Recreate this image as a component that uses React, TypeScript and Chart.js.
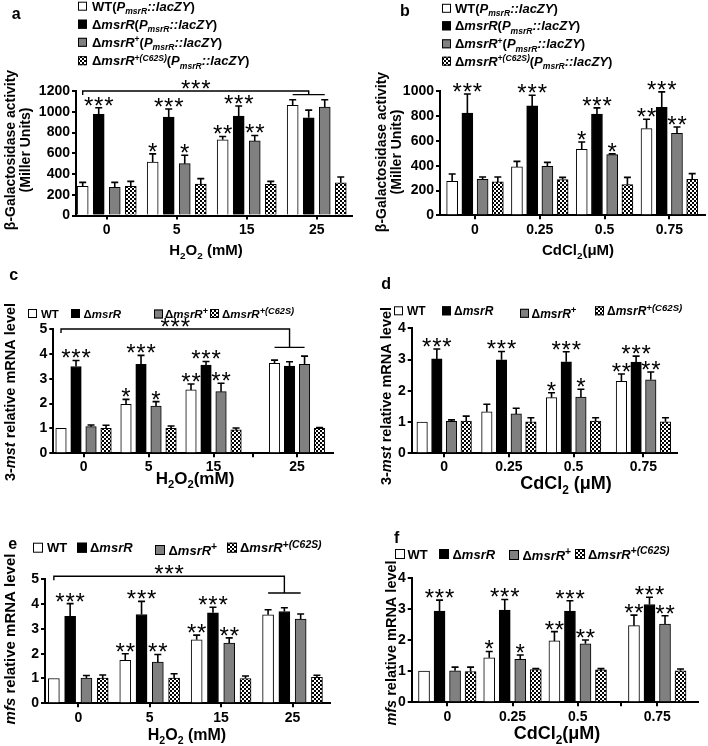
import React, { useEffect, useRef } from 'react';
import { Chart, registerables } from 'chart.js';

Chart.register(...registerables);

const FAMILY = '"Liberation Sans", Arial, Helvetica, sans-serif';

type Seg = { t: string; i?: boolean; sub?: boolean; sup?: boolean };

// ---------------- DATA ----------------
const h2o2Labels = ['0', '5', '15', '25'];
const cdLabels = ['0', '0.25', '0.5', '0.75'];
const seriesKeys = ['WT', 'ΔmsrR', 'ΔmsrR+', 'ΔmsrR+(C62S)'];

// Panel a: β-Galactosidase activity, H2O2
const aWT = [281, 516, 729, 1061];
const aWTErr = [38, 78, 32, 55];
const aKO = [974, 948, 958, 942];
const aKOErr = [65, 78, 97, 74];
const aComp = [271, 500, 719, 1045];
const aCompErr = [48, 81, 52, 71];
const aMut = [281, 303, 300, 316];
const aMutErr = [48, 52, 29, 55];
const aWTSig = ['', '*', '**', ''];
const aKOSig = ['***', '***', '***', ''];
const aCompSig = ['', '*', '**', ''];

// Panel b: β-Galactosidase activity, CdCl2
const bWT = [274, 390, 532, 699];
const bWTErr = [59, 45, 59, 75];
const bKO = [825, 882, 817, 871];
const bKOErr = [153, 86, 49, 124];
const bComp = [290, 395, 489, 661];
const bCompErr = [19, 32, 6, 51];
const bMut = [269, 288, 247, 290];
const bMutErr = [40, 18, 59, 46];
const bWTSig = ['', '', '*', '**'];
const bKOSig = ['***', '***', '***', '***'];
const bCompSig = ['', '', '*', '**'];

// Panel c: 3-mst mRNA, H2O2
const cWT = [1.0, 1.97, 2.55, 3.62];
const cWTErr = [0, 0.2, 0.24, 0.13];
const cKO = [3.49, 3.58, 3.55, 3.51];
const cKOErr = [0.24, 0.36, 0.14, 0.17];
const cComp = [1.07, 1.9, 2.48, 3.58];
const cCompErr = [0.07, 0.18, 0.34, 0.33];
const cMut = [1.0, 1.0, 0.94, 1.0];
const cMutErr = [0.13, 0.1, 0.08, 0.04];
const cWTSig = ['', '*', '**', ''];
const cKOSig = ['***', '***', '***', ''];
const cCompSig = ['', '*', '**', ''];

// Panel d: 3-mst mRNA, CdCl2
const dWT = [1.0, 1.33, 1.78, 2.3];
const dWTErr = [0, 0.24, 0.16, 0.24];
const dKO = [3.02, 2.99, 2.93, 2.92];
const dKOErr = [0.32, 0.27, 0.32, 0.19];
const dComp = [1.02, 1.26, 1.8, 2.35];
const dCompErr = [0.05, 0.18, 0.25, 0.25];
const dMut = [1.03, 1.01, 1.03, 1.01];
const dMutErr = [0.16, 0.13, 0.11, 0.13];
const dWTSig = ['', '', '*', '**'];
const dKOSig = ['***', '***', '***', '***'];
const dCompSig = ['', '', '*', '**'];

// Panel e: mfs mRNA, H2O2
const eWT = [1.0, 1.73, 2.56, 3.57];
const eWTErr = [0, 0.27, 0.19, 0.2];
const eKO = [3.51, 3.58, 3.65, 3.7];
const eKOErr = [0.51, 0.53, 0.22, 0.15];
const eComp = [1.02, 1.66, 2.43, 3.4];
const eCompErr = [0.1, 0.31, 0.21, 0.2];
const eMut = [1.02, 1.02, 1.0, 1.05];
const eMutErr = [0.12, 0.17, 0.1, 0.08];
const eWTSig = ['', '**', '**', ''];
const eKOSig = ['***', '***', '***', ''];
const eCompSig = ['', '**', '**', ''];

// Panel f: mfs mRNA, CdCl2
const fWT = [1.0, 1.43, 1.97, 2.46];
const fWTErr = [0, 0.2, 0.3, 0.34];
const fKO = [2.93, 2.96, 2.93, 3.14];
const fKOErr = [0.35, 0.34, 0.33, 0.23];
const fComp = [1.01, 1.38, 1.88, 2.51];
const fCompErr = [0.12, 0.14, 0.12, 0.27];
const fMut = [0.99, 1.05, 1.04, 1.01];
const fMutErr = [0.14, 0.03, 0.04, 0.06];
const fWTSig = ['', '*', '**', '**'];
const fKOSig = ['***', '***', '***', '***'];
const fCompSig = ['', '*', '**', '**'];
const noSig = ['', '', '', ''];

// ---------------- TEXT ----------------
const promoter: Seg[] = [
  { t: '(' }, { t: 'P', i: true }, { t: 'msrR', i: true, sub: true }, { t: '::lacZY', i: true }, { t: ')' },
];
const longNames: Seg[][] = [
  [{ t: 'WT' }, ...promoter],
  [{ t: 'Δ' }, { t: 'msrR', i: true }, ...promoter],
  [{ t: 'Δ' }, { t: 'msrR', i: true }, { t: '+', sup: true }, ...promoter],
  [{ t: 'Δ' }, { t: 'msrR', i: true }, { t: '+(C62S)', i: true, sup: true }, ...promoter],
];
const shortNames: Seg[][] = [
  [{ t: 'WT' }],
  [{ t: 'Δ' }, { t: 'msrR', i: true }],
  [{ t: 'Δ' }, { t: 'msrR', i: true }, { t: '+', sup: true }],
  [{ t: 'Δ' }, { t: 'msrR', i: true }, { t: '+(C62S)', i: true, sup: true }],
];
const galTitle: Seg[][] = [[{ t: 'β-Galactosidase activity' }], [{ t: '(Miller Units)' }]];
const mstTitle: Seg[][] = [[{ t: '3-' }, { t: 'mst', i: true }, { t: ' relative mRNA level' }]];
const mfsTitle: Seg[][] = [[{ t: 'mfs', i: true }, { t: ' relative mRNA level' }]];
const h2o2Title: Seg[] = [{ t: 'H' }, { t: '2', sub: true }, { t: 'O' }, { t: '2', sub: true }, { t: ' (mM)' }];
const h2o2TitleTight: Seg[] = [{ t: 'H' }, { t: '2', sub: true }, { t: 'O' }, { t: '2', sub: true }, { t: '(mM)' }];
const cdTitle: Seg[] = [{ t: 'CdCl' }, { t: '2', sub: true }, { t: '(μM)' }];
const cdTitleSpaced: Seg[] = [{ t: 'CdCl' }, { t: '2', sub: true }, { t: ' (μM)' }];

const mk = (mean: number[], err: number[], sig: string[]) => ({ mean, err, sig });

// ---------------- PANELS (layout) ----------------
const panels: any[] = [
  {
    id: 'a', cell: { x: 0, y: 0, w: 354, h: 262 },
    area: { left: 76, top: 91, right: 352, bottom: 215.5 },
    xMin: -0.439, xMax: 3.504, groupPos: [0, 1, 2, 3], tickPos: [0, 1, 2, 3], tickLabels: h2o2Labels,
    pitch: 0.229, barW: 11, yMax: 1200, yStep: 200, yTickFs: 14, xTickFs: 14, xTickPad: 2,
    series: [mk(aWT, aWTErr, aWTSig), mk(aKO, aKOErr, aKOSig), mk(aComp, aCompErr, aCompSig), mk(aMut, aMutErr, noSig)],
    letter: { t: 'a', x: 11.7, y: 18.5 },
    legend: { names: longNames, fs: 13, ss: 0.66, box: 9, items: [[78, 92, 6.2], [78, 92, 24.2], [78, 92, 42.3], [78, 92, 60.7]] },
    yTitle: { lines: galTitle, xs: [10, 25], cy: 150, fs: 14 },
    xTitle: { segs: h2o2Title, x: 206, y: 250, fs: 15 },
    bracket: { top: 1200, short: 1165 },
  },
  {
    id: 'b', cell: { x: 354, y: 0, w: 354, h: 262 },
    area: { left: 440, top: 91.3, right: 705, bottom: 215.3 },
    xMin: -0.54, xMax: 3.55, groupPos: [0, 1, 2, 3], tickPos: [0, 1, 2, 3], tickLabels: cdLabels,
    pitch: 0.235, barW: 11, yMax: 1000, yStep: 200, yTickFs: 14, xTickFs: 14, xTickPad: 2,
    series: [mk(bWT, bWTErr, bWTSig), mk(bKO, bKOErr, bKOSig), mk(bComp, bCompErr, bCompSig), mk(bMut, bMutErr, noSig)],
    letter: { t: 'b', x: 400, y: 16 },
    legend: { names: longNames, fs: 13, ss: 0.66, box: 9, items: [[442, 455, 8.3], [442, 455, 25.8], [442, 455, 43.8], [442, 455, 61.2]] },
    yTitle: { lines: galTitle, xs: [381, 396], cy: 152, fs: 14 },
    xTitle: { segs: cdTitle, x: 578, y: 250, fs: 15 },
  },
  {
    id: 'c', cell: { x: 0, y: 258, w: 354, h: 246 },
    area: { left: 53.3, top: 329, right: 333, bottom: 453.3 },
    xMin: -0.465, xMax: 3.838, groupPos: [0, 1, 2, 3.285], tickPos: [0, 1, 2, 2.61, 3.285],
    tickLabels: ['0', '5', '15', '', '25'],
    pitch: 0.231, barW: 10.5, yMax: 5, yStep: 1, yTickFs: 14, xTickFs: 14, xTickPad: 1,
    series: [mk(cWT, cWTErr, cWTSig), mk(cKO, cKOErr, cKOSig), mk(cComp, cCompErr, cCompSig), mk(cMut, cMutErr, noSig)],
    letter: { t: 'c', x: 9.3, y: 279.5 },
    legend: { names: shortNames, fs: 11.5, ss: 0.8, box: 9, items: [[28, 41, 313.5], [71, 83.5, 313.5], [154, 165, 314], [210, 222, 313.5]] },
    yTitle: { lines: mstTitle, xs: [10], cy: 392, fs: 14.5 },
    xTitle: { segs: h2o2TitleTight, x: 195, y: 478, fs: 17 },
    bracket: { top: 5, short: 4.26 },
  },
  {
    id: 'd', cell: { x: 354, y: 258, w: 354, h: 246 },
    area: { left: 411.7, top: 328.3, right: 676.7, bottom: 453.3 },
    xMin: -0.502, xMax: 3.594, groupPos: [0, 1, 2, 3.08], tickPos: [0, 1, 2, 3.08], tickLabels: cdLabels,
    pitch: 0.227, barW: 10.5, yMax: 4, yStep: 1, yTickFs: 14, xTickFs: 14, xTickPad: 1.5,
    series: [mk(dWT, dWTErr, dWTSig), mk(dKO, dKOErr, dKOSig), mk(dComp, dCompErr, dCompSig), mk(dMut, dMutErr, noSig)],
    letter: { t: 'd', x: 381.3, y: 288.5 },
    legend: { names: shortNames, fs: 12, ss: 0.8, box: 9, items: [[394, 407, 310.8], [442, 454, 310.8], [520, 531.5, 313.3], [595, 607, 310.8]] },
    yTitle: { lines: mstTitle, xs: [386], cy: 396, fs: 14.5 },
    xTitle: { segs: cdTitleSpaced, x: 566, y: 483, fs: 18 },
  },
  {
    id: 'e', cell: { x: 0, y: 500, w: 354, h: 246 },
    area: { left: 45, top: 579.3, right: 330, bottom: 703.3 },
    xMin: -0.466, xMax: 3.525, groupPos: [0, 1, 2, 3], tickPos: [0, 1, 2, 3], tickLabels: h2o2Labels,
    pitch: 0.228, barW: 11, yMax: 5, yStep: 1, yTickFs: 14, xTickFs: 14, xTickPad: 2.5,
    series: [mk(eWT, eWTErr, eWTSig), mk(eKO, eKOErr, eKOSig), mk(eComp, eCompErr, eCompSig), mk(eMut, eMutErr, noSig)],
    letter: { t: 'e', x: 8.3, y: 549 },
    legend: { names: shortNames, fs: 13, ss: 0.8, box: 10, items: [[33, 47, 547.7], [77, 90, 547.7], [155, 168.5, 550], [227, 240, 547.7]] },
    yTitle: { lines: mfsTitle, xs: [10], cy: 639, fs: 15 },
    xTitle: { segs: h2o2Title, x: 187, y: 734, fs: 16 },
    bracket: { top: 5.12, short: 4.45 },
  },
  {
    id: 'f', cell: { x: 354, y: 500, w: 354, h: 246 },
    area: { left: 411.7, top: 577.7, right: 698, bottom: 702.3 },
    xMin: -0.546, xMax: 3.845, groupPos: [0, 1, 2, 3.22], tickPos: [0, 1, 2, 2.67, 3.22],
    tickLabels: ['0', '0.25', '0.5', '', '0.75'],
    pitch: 0.238, barW: 11, yMax: 4, yStep: 1, yTickFs: 14, xTickFs: 14, xTickPad: 2,
    series: [mk(fWT, fWTErr, fWTSig), mk(fKO, fKOErr, fKOSig), mk(fComp, fCompErr, fCompSig), mk(fMut, fMutErr, noSig)],
    letter: { t: 'f', x: 394, y: 543 },
    legend: { names: shortNames, fs: 13, ss: 0.8, box: 10, items: [[395, 407.5, 554], [439, 452.5, 554], [509, 522.5, 555], [575, 588, 554]] },
    yTitle: { lines: mfsTitle, xs: [391], cy: 643, fs: 14.5 },
    xTitle: { segs: cdTitle, x: 557, y: 733, fs: 18 },
  },
];

// ---------------- DRAW HELPERS ----------------
function segFont(s: Seg, fs: number, ss: number) {
  const size = s.sub || s.sup ? fs * ss : fs;
  return `${s.i ? 'italic ' : ''}bold ${size}px ${FAMILY}`;
}
function measureRich(ctx: CanvasRenderingContext2D, segs: Seg[], fs: number, ss: number) {
  let w = 0;
  for (const s of segs) {
    ctx.font = segFont(s, fs, ss);
    w += ctx.measureText(s.t).width;
  }
  return w;
}
function drawRich(ctx: CanvasRenderingContext2D, segs: Seg[], x: number, baseline: number, fs: number, center: boolean, ss = 0.66) {
  let cx = center ? x - measureRich(ctx, segs, fs, ss) / 2 : x;
  ctx.textAlign = 'left';
  ctx.textBaseline = 'alphabetic';
  for (const s of segs) {
    ctx.font = segFont(s, fs, ss);
    const dy = s.sub ? fs * 0.24 : s.sup ? -fs * 0.36 : 0;
    ctx.fillText(s.t, cx, baseline + dy);
    cx += ctx.measureText(s.t).width;
  }
}
const STAR_FS = 24;
const STAR_LS = 0.8;
function drawStars(ctx: CanvasRenderingContext2D, str: string, cx: number, cy: number) {
  ctx.save();
  ctx.fillStyle = '#000';
  ctx.font = `${STAR_FS}px ${FAMILY}`;
  (ctx as any).letterSpacing = `${STAR_LS}px`;
  ctx.textAlign = 'left';
  ctx.textBaseline = 'alphabetic';
  const w = ctx.measureText(str).width;
  ctx.fillText(str, cx - (w - STAR_LS) / 2, cy + STAR_FS * 0.58);
  ctx.restore();
}
function makePattern(): CanvasPattern | string {
  const pc = document.createElement('canvas');
  pc.width = 4;
  pc.height = 4;
  const g = pc.getContext('2d');
  if (!g) return '#888';
  g.fillStyle = '#ffffff';
  g.fillRect(0, 0, 4, 4);
  g.fillStyle = '#000000';
  g.fillRect(0, 0, 2, 2);
  g.fillRect(2, 2, 2, 2);
  return g.createPattern(pc, 'repeat') || '#888';
}

function overlay(p: any, fills: any[]) {
  return {
    id: 'overlay_' + p.id,
    afterDatasetsDraw(chart: any) {
      const ctx: CanvasRenderingContext2D = chart.ctx;
      const ys = chart.scales.y;
      ctx.save();
      ctx.strokeStyle = '#000';
      ctx.lineCap = 'butt';
      p.series.forEach((s: any, k: number) => {
        const meta = chart.getDatasetMeta(k);
        meta.data.forEach((el: any, i: number) => {
          const err = s.err[i];
          const yTop = ys.getPixelForValue(s.mean[i] + err);
          if (err > 0) {
            ctx.lineWidth = 1.6;
            ctx.beginPath();
            ctx.moveTo(el.x, el.y);
            ctx.lineTo(el.x, yTop);
            ctx.moveTo(el.x - 3.5, yTop);
            ctx.lineTo(el.x + 3.5, yTop);
            ctx.stroke();
          }
          if (s.sig[i]) drawStars(ctx, s.sig[i], el.x, yTop - 8);
        });
      });
      if (p.bracket) {
        const m0 = chart.getDatasetMeta(0).data;
        const m1 = chart.getDatasetMeta(1).data;
        const m2 = chart.getDatasetMeta(2).data;
        const last = m0.length - 1;
        const xL = m0[0].x;
        const xR = m1[last].x;
        const yT = ys.getPixelForValue(p.bracket.top);
        const yS = ys.getPixelForValue(p.bracket.short);
        ctx.lineWidth = 1.4;
        ctx.beginPath();
        ctx.moveTo(xL, yT + 4);
        ctx.lineTo(xL, yT);
        ctx.lineTo(xR, yT);
        ctx.lineTo(xR, yS);
        ctx.moveTo(m0[last].x, yS);
        ctx.lineTo(m2[last].x, yS);
        ctx.stroke();
        drawStars(ctx, '***', (xL + xR) / 2, yT - 8);
      }
      ctx.restore();
    },
    afterDraw(chart: any) {
      const ctx: CanvasRenderingContext2D = chart.ctx;
      ctx.save();
      ctx.translate(-p.cell.x, -p.cell.y);
      ctx.fillStyle = '#000';
      // panel letter
      ctx.font = `bold 16px ${FAMILY}`;
      ctx.textAlign = 'left';
      ctx.textBaseline = 'alphabetic';
      ctx.fillText(p.letter.t, p.letter.x, p.letter.y);
      // legend
      const lg = p.legend;
      lg.items.forEach((it: number[], k: number) => {
        const [bx, tx, cy] = it;
        const by = cy - lg.box / 2;
        ctx.fillStyle = fills[k];
        ctx.fillRect(bx, by, lg.box, lg.box);
        ctx.strokeStyle = '#000';
        ctx.lineWidth = 1;
        ctx.strokeRect(bx + 0.5, by + 0.5, lg.box - 1, lg.box - 1);
        ctx.fillStyle = '#000';
        drawRich(ctx, lg.names[k], tx, cy + lg.fs * 0.36, lg.fs, false, lg.ss);
      });
      // y title
      const yt = p.yTitle;
      yt.lines.forEach((segs: Seg[], j: number) => {
        ctx.save();
        ctx.translate(yt.xs[j], yt.cy);
        ctx.rotate(-Math.PI / 2);
        ctx.fillStyle = '#000';
        drawRich(ctx, segs, 0, yt.fs * 0.36, yt.fs, true);
        ctx.restore();
      });
      // x title
      const xt = p.xTitle;
      ctx.fillStyle = '#000';
      drawRich(ctx, xt.segs, xt.x, xt.y + xt.fs * 0.36, xt.fs, true);
      ctx.restore();
    },
  };
}

function buildConfig(p: any) {
  const pat = makePattern();
  const fills = ['#ffffff', '#000000', '#808080', pat];
  const yAxisW = p.area.left - p.cell.x;
  const xAxisH = p.cell.y + p.cell.h - p.area.bottom;
  const pad = {
    left: 0,
    top: p.area.top - p.cell.y,
    right: p.cell.x + p.cell.w - p.area.right,
    bottom: 0,
  };
  const datasets = p.series.map((s: any, k: number) => ({
    label: seriesKeys[k],
    data: s.mean.map((v: number, i: number) => ({ x: p.groupPos[i] + (k - 1.5) * p.pitch, y: v })),
    backgroundColor: fills[k],
    borderColor: '#000',
    borderWidth: 1,
    grouped: false,
    barPercentage: 1,
    categoryPercentage: 1,
    maxBarThickness: p.barW,
  }));
  const axisFont = (size: number) => ({ family: FAMILY, size, weight: 'bold' as const });
  const grid = {
    display: true, drawOnChartArea: false, drawTicks: true, tickLength: 4, tickWidth: 2,
    color: '#000', lineWidth: 2, offset: false,
  };
  const border = { display: true, color: '#000', width: 2 };
  return {
    type: 'bar' as const,
    data: { datasets },
    options: {
      responsive: false,
      animation: false as const,
      devicePixelRatio: 1,
      events: [],
      layout: { padding: pad, autoPadding: false },
      plugins: { legend: { display: false }, tooltip: { enabled: false }, title: { display: false } },
      scales: {
        x: {
          type: 'linear' as const, min: p.xMin, max: p.xMax, bounds: 'data' as const, offset: false,
          grid, border,
          afterFit: (s: any) => { s.height = xAxisH; },
          afterBuildTicks: (s: any) => { s.ticks = p.tickPos.map((v: number) => ({ value: v })); },
          ticks: {
            autoSkip: false, maxRotation: 0, minRotation: 0, padding: p.xTickPad, color: '#000',
            font: axisFont(p.xTickFs),
            callback: (_v: any, i: number) => p.tickLabels[i],
          },
        },
        y: {
          type: 'linear' as const, min: 0, max: p.yMax,
          grid, border,
          afterFit: (s: any) => { s.width = yAxisW; },
          ticks: {
            stepSize: p.yStep, padding: 2, color: '#000', font: axisFont(p.yTickFs),
            callback: (v: any) => String(v),
          },
        },
      },
    },
    plugins: [overlay(p, fills)],
  };
}

function Panel({ p }: { p: any }) {
  const ref = useRef<HTMLCanvasElement>(null);
  useEffect(() => {
    const canvas = ref.current;
    if (!canvas) return;
    const chart = new Chart(canvas, buildConfig(p) as any);
    return () => chart.destroy();
  }, [p]);
  return (
    <canvas
      ref={ref}
      width={p.cell.w}
      height={p.cell.h}
      style={{ position: 'absolute', left: p.cell.x, top: p.cell.y, width: p.cell.w, height: p.cell.h }}
    />
  );
}

export default function App() {
  return (
    <div style={{ position: 'absolute', left: 0, top: 0, width: 708, height: 746, background: '#ffffff', overflow: 'hidden' }}>
      {panels.map((p) => (
        <Panel key={p.id} p={p} />
      ))}
    </div>
  );
}
